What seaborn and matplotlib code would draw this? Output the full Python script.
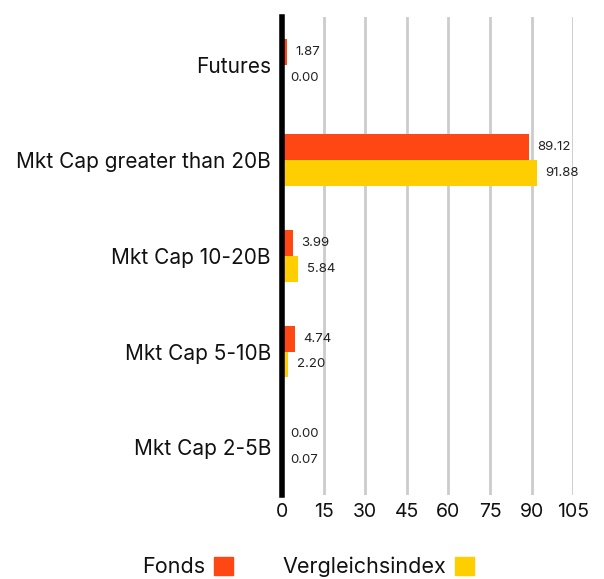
import pandas as pd
import matplotlib.pyplot as plt
import matplotlib.patches as mpatches
import seaborn as sns

categories = ['Futures', 'Mkt Cap greater than 20B', 'Mkt Cap 10-20B', 'Mkt Cap 5-10B', 'Mkt Cap 2-5B']
fonds = [1.87, 89.12, 3.99, 4.74, 0.00]
vergleich = [0.00, 91.88, 5.84, 2.20, 0.07]
series_names = ['Fonds', 'Vergleichsindex']
colors = ['#FF4713', '#FFCE00']
x_ticks = [0, 15, 30, 45, 60, 75, 90, 105]

sns.set_style('white')
plt.rcParams['font.family'] = ['Inter', 'DejaVu Sans']
plt.rcParams['text.color'] = '#111111'

df = pd.DataFrame({
    'category': categories * 2,
    'value': fonds + vergleich,
    'series': [series_names[0]] * len(categories) + [series_names[1]] * len(categories),
})

fig = plt.figure(figsize=(6.04, 5.79), dpi=100)
ax = fig.add_axes([0.467, 0.145, 0.482, 0.826])

sns.barplot(data=df, y='category', x='value', hue='series', order=categories,
            hue_order=series_names, palette=colors, width=0.54, orient='h',
            saturation=1, linewidth=0, legend=False, ax=ax)

for container in ax.containers:
    ax.bar_label(container, fmt='%.2f', padding=6, fontsize=9.5, color='#222222')

ax.set_xlim(0, 105)
ax.set_ylim(4.5, -0.5)
ax.set_xticks(x_ticks)
ax.set_xticklabels([str(t) for t in x_ticks], fontsize=14, color='#111111')
ax.tick_params(axis='y', labelsize=15, length=0, pad=8, labelcolor='#111111')
ax.tick_params(axis='x', length=0, pad=6)
ax.set_xlabel('')
ax.set_ylabel('')
ax.xaxis.grid(True, color='#cccccc', linewidth=2)
ax.set_axisbelow(True)
for s in ['top', 'right', 'bottom']:
    ax.spines[s].set_visible(False)
ax.spines['left'].set_linewidth(4)
ax.spines['left'].set_color('black')

# legend: label text first, colour square after it
handles = [mpatches.Patch(color=c, label=n) for c, n in zip(colors, series_names)]
fig.legend(handles=handles, loc='center', bbox_to_anchor=(0.51, 0.021), ncol=2,
           frameon=False, markerfirst=False, fontsize=15.5, handlelength=0.9,
           handleheight=0.9, columnspacing=2.3, handletextpad=0.4)

fig.savefig('out.png', dpi=100)
